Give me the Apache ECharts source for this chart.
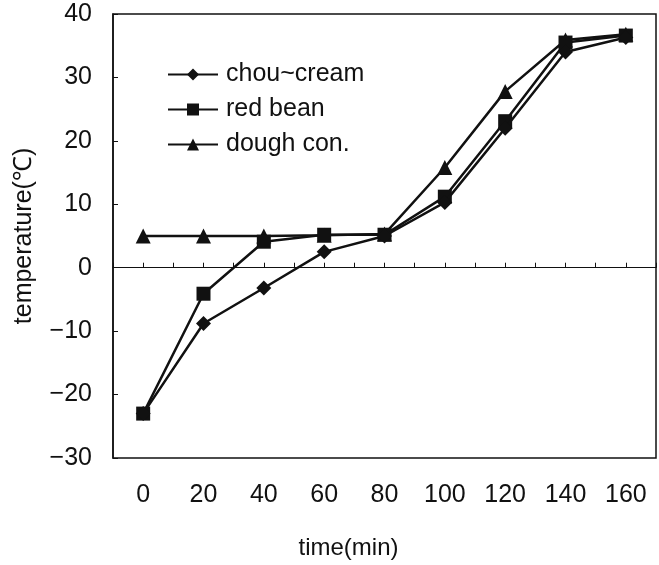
<!DOCTYPE html>
<html>
<head>
<meta charset="utf-8">
<script src="https://cdn.jsdelivr.net/npm/echarts@6/dist/echarts.min.js"></script>
<style>
  html, body { margin: 0; padding: 0; background: #fff; }
  #chart { width: 659px; height: 565px; }
</style>
</head>
<body>
<div id="chart"></div>
<script>
// 时间 (min)
var times = [0, 20, 40, 60, 80, 100, 120, 140, 160];
// 各样品温度 (℃)
var chouCream = [-23, -8.8, -3.2, 2.5, 5.0, 10.3, 22.0, 34.0, 36.3];
var redBean = [-23, -4.1, 4.1, 5.2, 5.2, 11.2, 23.1, 35.5, 36.6];
var doughCon = [5.0, 5.0, 5.0, 5.1, 5.3, 15.8, 27.8, 35.9, 36.8];
var seriesNames = ['chou~cream', 'red bean', 'dough con.'];
var symbols = ['diamond', 'rect', 'triangle'];
var symbolSizes = [15, 14, 15];

var font = 'Liberation Sans, Arial, sans-serif';

function toPairs(vals) {
    return vals.map(function (v, i) { return [times[i], v]; });
}

var series = [chouCream, redBean, doughCon].map(function (vals, i) {
    return {
        name: seriesNames[i],
        type: 'line',
        xAxisIndex: 0,
        data: toPairs(vals),
        symbol: symbols[i],
        symbolSize: symbolSizes[i],
        lineStyle: { color: '#111', width: 2.5 },
        itemStyle: { color: '#111' },
        z: 3 - i
    };
});

var chart = echarts.init(document.getElementById('chart'));
chart.setOption({
    backgroundColor: '#fff',
    animation: false,
    textStyle: { fontFamily: font },
    grid: {
        left: 113,
        right: -2,
        top: 14,
        bottom: 105,
        show: true,
        borderColor: '#111',
        borderWidth: 1.5
    },
    legend: {
        orient: 'vertical',
        left: 162,
        top: 57,
        itemWidth: 50,
        itemHeight: 15,
        itemGap: 10,
        data: seriesNames,
        textStyle: { fontSize: 25, color: '#111', fontFamily: font, padding: [0, 0, 0, 3] }
    },
    xAxis: [
        {
            // 零线及其刻度
            type: 'value',
            min: -10,
            max: 170,
            interval: 10,
            position: 'bottom',
            axisLine: { onZero: true, lineStyle: { color: '#111', width: 1.2 } },
            axisTick: { show: true, inside: true, length: 5, lineStyle: { color: '#111', width: 1 } },
            axisLabel: { show: false },
            splitLine: { show: false }
        },
        {
            // 底部标签
            type: 'value',
            min: -10,
            max: 170,
            interval: 10,
            position: 'bottom',
            axisLine: { show: false, onZero: false },
            axisTick: { show: false },
            axisLabel: {
                margin: 25,
                fontSize: 25,
                color: '#111',
                fontFamily: font,
                formatter: function (v) {
                    return (v >= 0 && v <= 160 && v % 20 === 0) ? String(v) : '';
                }
            },
            splitLine: { show: false },
            name: 'time(min)',
            nameLocation: 'middle',
            nameGap: 78,
            nameTextStyle: { fontSize: 24, color: '#111', fontFamily: font, padding: [0, 72, 0, 0] }
        }
    ],
    yAxis: {
        type: 'value',
        min: -30,
        max: 40,
        interval: 10,
        axisLine: { show: true, onZero: false, lineStyle: { color: '#111', width: 1.5 } },
        axisTick: { show: true, inside: true, length: 5, lineStyle: { color: '#111' } },
        axisLabel: {
            margin: 21,
            fontSize: 25,
            color: '#111',
            fontFamily: font,
            formatter: function (v) {
                return v < 0 ? '\u2212' + Math.abs(v) : String(v);
            }
        },
        splitLine: { show: false },
        name: 'temperature(℃)',
        nameLocation: 'middle',
        nameGap: 76,
        nameTextStyle: { fontSize: 25, color: '#111', fontFamily: font }
    },
    series: series
});
</script>
</body>
</html>
